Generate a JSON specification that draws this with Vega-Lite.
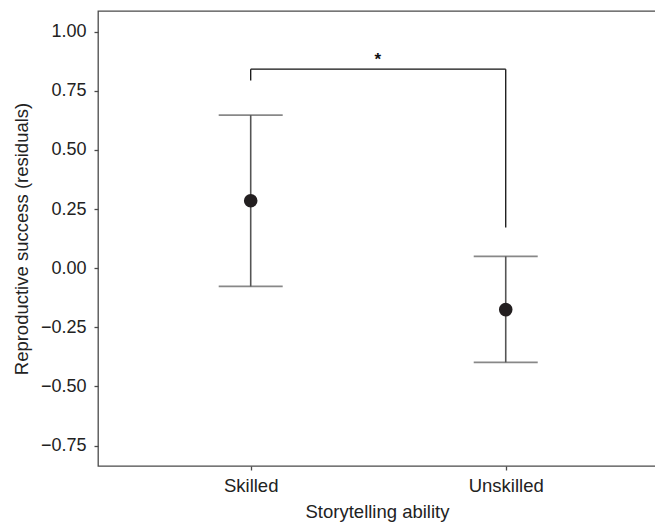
{
  "$schema": "https://vega.github.io/schema/vega-lite/v6.json",
  "autosize": "none",
  "width": 558,
  "height": 455,
  "padding": {"left": 98, "top": 11, "right": 0, "bottom": 59},
  "background": "white",
  "config": {
    "font": "Liberation Sans",
    "view": {"stroke": "#4a4a4a", "strokeWidth": 1.3},
    "axis": {
      "grid": false,
      "domain": false,
      "tickColor": "#4a4a4a",
      "tickWidth": 1.3,
      "tickSize": 4,
      "labelColor": "#222",
      "titleColor": "#222",
      "labelFont": "Liberation Sans",
      "titleFont": "Liberation Sans",
      "labelFontSize": 18,
      "titleFontSize": 18.5,
      "titleFontWeight": "normal"
    }
  },
  "datasets": {
    "summary": [
      {"group": "Skilled", "mean": 0.285, "lower": -0.077, "upper": 0.647},
      {"group": "Unskilled", "mean": -0.175, "lower": -0.398, "upper": 0.05}
    ],
    "bracketVert": [
      {"group": "Skilled", "top": 0.841, "bottom": 0.793},
      {"group": "Unskilled", "top": 0.841, "bottom": 0.172}
    ],
    "bracketHoriz": [
      {"from": "Skilled", "to": "Unskilled", "level": 0.841, "label": "*"}
    ]
  },
  "encoding": {
    "x": {
      "field": "group",
      "type": "nominal",
      "sort": ["Skilled", "Unskilled"],
      "scale": {"type": "point", "padding": 0.594, "align": 0.504, "domain": ["Skilled", "Unskilled"]},
      "axis": {"title": "Storytelling ability", "labelAngle": 0, "labelPadding": 6, "titlePadding": 8, "labelFontSize": 18.5}
    }
  },
  "layer": [
    {
      "data": {"name": "summary"},
      "mark": {"type": "rule", "color": "#555", "strokeWidth": 1.6},
      "encoding": {
        "y": {
          "field": "lower",
          "type": "quantitative",
          "scale": {"domain": [-0.836, 1.087], "nice": false, "zero": false},
          "axis": {
            "title": "Reproductive success (residuals)",
            "values": [-0.75, -0.5, -0.25, 0, 0.25, 0.5, 0.75, 1.0],
            "format": ".2f",
            "labelPadding": 8,
            "titlePadding": 9
          }
        },
        "y2": {"field": "upper"}
      }
    },
    {
      "data": {"name": "summary"},
      "mark": {"type": "tick", "color": "#555", "size": 64, "thickness": 1.6, "orient": "horizontal"},
      "encoding": {"y": {"field": "upper", "type": "quantitative"}}
    },
    {
      "data": {"name": "summary"},
      "mark": {"type": "tick", "color": "#555", "size": 64, "thickness": 1.6, "orient": "horizontal"},
      "encoding": {"y": {"field": "lower", "type": "quantitative"}}
    },
    {
      "data": {"name": "summary"},
      "mark": {"type": "point", "filled": true, "color": "#231f20", "opacity": 1, "size": 185},
      "encoding": {"y": {"field": "mean", "type": "quantitative"}}
    },
    {
      "data": {"name": "bracketVert"},
      "mark": {"type": "rule", "color": "#111", "strokeWidth": 1.3},
      "encoding": {
        "y": {"field": "top", "type": "quantitative"},
        "y2": {"field": "bottom"}
      }
    },
    {
      "data": {"name": "bracketHoriz"},
      "mark": {"type": "rule", "color": "#111", "strokeWidth": 1.3},
      "encoding": {
        "x": {"field": "from", "type": "nominal"},
        "x2": {"field": "to"},
        "y": {"field": "level", "type": "quantitative"}
      }
    },
    {
      "data": {"name": "bracketHoriz"},
      "mark": {"type": "text", "fontSize": 17, "fontWeight": "bold", "color": "#111", "dx": 127, "dy": -9, "baseline": "middle"},
      "encoding": {
        "x": {"field": "from", "type": "nominal"},
        "y": {"field": "level", "type": "quantitative"},
        "text": {"field": "label"}
      }
    }
  ]
}
